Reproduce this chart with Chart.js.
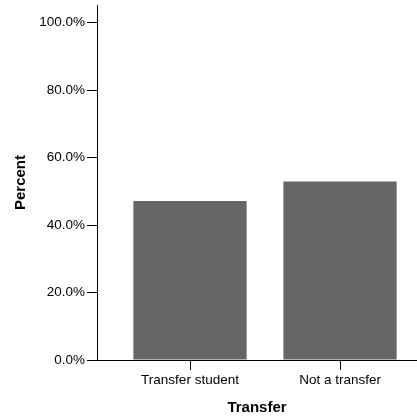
<!DOCTYPE html>
<html>
<head>
<meta charset="utf-8">
<script src="https://cdn.jsdelivr.net/npm/chart.js@4"></script>
<style>
  html, body { margin: 0; padding: 0; background: #fff; }
  #chart { display: block; }
</style>
</head>
<body>
<canvas id="chart" width="417" height="417"></canvas>
<script>
// data
const categories = ['Transfer student', 'Not a transfer'];
const percentValues = [47.1, 52.9];
const yTicks = [0, 20, 40, 60, 80, 100];

const FONT = "'Liberation Sans', Arial, sans-serif";

document.addEventListener('DOMContentLoaded', function () {
    const ctx = document.getElementById('chart').getContext('2d');

    new Chart(ctx, {
        type: 'bar',
        data: {
            datasets: [{
                label: 'Percent',
                data: percentValues.map((v, i) => ({ x: i, y: v })),
                backgroundColor: '#666666',
                borderWidth: 0,
                barPercentage: 0.755,
                categoryPercentage: 1.0
            }]
        },
        options: {
            responsive: false,
            animation: false,
            layout: { padding: { top: 5, right: 0, left: 0, bottom: 0 } },
            plugins: {
                legend: { display: false },
                tooltip: { enabled: false }
            },
            scales: {
                x: {
                    type: 'linear',
                    offset: false,
                    min: -0.62,
                    max: 1.513,
                    afterBuildTicks: scale => {
                        scale.ticks = categories.map((c, i) => ({ value: i }));
                    },
                    afterFit: scale => {
                        scale.height = 57;
                        scale.paddingLeft = 0;
                        scale.paddingRight = 0;
                    },
                    ticks: {
                        autoSkip: false,
                        maxRotation: 0,
                        padding: 2,
                        color: '#000',
                        font: { family: FONT, size: 13.5 },
                        callback: v => categories[v]
                    },
                    grid: {
                        offset: false,
                        drawOnChartArea: false,
                        drawTicks: true,
                        tickLength: 10,
                        color: '#000'
                    },
                    border: { color: '#000', width: 1 },
                    title: {
                        display: true,
                        text: 'Transfer',
                        color: '#000',
                        font: { family: FONT, size: 15, weight: 'bold' },
                        padding: { top: 6, bottom: 0 }
                    }
                },
                y: {
                    min: 0,
                    max: 105.2,
                    afterBuildTicks: scale => {
                        scale.ticks = yTicks.map(v => ({ value: v }));
                    },
                    afterFit: scale => {
                        scale.width = 97;
                        scale.paddingTop = 0;
                        scale.paddingBottom = 0;
                    },
                    ticks: {
                        padding: 2,
                        color: '#000',
                        font: { family: FONT, size: 13.5 },
                        callback: v => v.toFixed(1) + '%'
                    },
                    grid: {
                        drawOnChartArea: false,
                        drawTicks: true,
                        tickLength: 10,
                        color: '#000'
                    },
                    border: { color: '#000', width: 1 },
                    title: {
                        display: true,
                        text: 'Percent',
                        color: '#000',
                        font: { family: FONT, size: 15, weight: 'bold' },
                        padding: { top: 12, bottom: 0 }
                    }
                }
            }
        }
    });
});
</script>
</body>
</html>
